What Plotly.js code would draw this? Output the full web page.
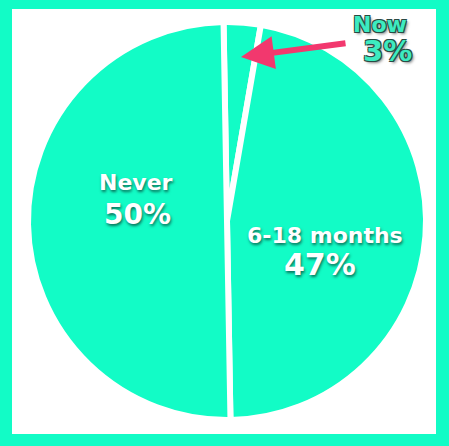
<!DOCTYPE html>
<html>
<head>
<meta charset="utf-8">
<script src="https://cdn.plot.ly/plotly-3.0.1.min.js"></script>
<style>
  html, body { margin: 0; padding: 0; }
  body { width: 449px; height: 446px; background: #12FCC6; position: relative; overflow: hidden; }
  #chart { position: absolute; left: 12px; top: 9px; width: 424px; height: 425px; background: #ffffff; }
</style>
</head>
<body>
<div id="chart"></div>
<script>
// Data
var labels = ['Now', '6-18 months', 'Never'];
var values = [3, 47, 50];
var sliceColors = ['#12FCC6', '#12FCC6', '#12FCC6'];

// Layout helpers (page pixel -> paper coords). Plot area: page x 28..426, y 22..420
var DIVL = 12, DIVT = 9, PL = 28, PT = 22, PS = 398;
function px(x) { return (x - PL) / PS; }
function py(y) { return (PT + PS - y) / PS; }

var whiteShadow = '1px 2px 3px rgba(0,0,0,0.55)';
var tealShadow = '1px 1px 0px #2a4a44, -1px -1px 0px #2a4a44, 1px -1px 0px #2a4a44, -1px 1px 0px #2a4a44, 2px 2px 3px rgba(0,0,0,0.5)';

var labelPos = {
  'Never':       {lx: 136, ly: 182, vx: 137, vy: 214, ls: 22, vs: 28, color: '#ffffff', shadow: whiteShadow},
  '6-18 months': {lx: 325, ly: 235, vx: 320, vy: 264, ls: 22, vs: 30, color: '#ffffff', shadow: whiteShadow},
  'Now':         {lx: 380, ly: 24,  vx: 387, vy: 51,  ls: 22, vs: 29, color: '#3DEBC0', shadow: tealShadow}
};

var annotations = [];
labels.forEach(function (lab, i) {
  var p = labelPos[lab];
  annotations.push({
    xref: 'paper', yref: 'paper', x: px(p.lx), y: py(p.ly),
    xanchor: 'center', yanchor: 'middle', showarrow: false,
    text: '<b>' + lab + '</b>',
    font: {family: 'DejaVu Sans', size: p.ls, color: p.color, weight: 'bold', shadow: p.shadow}
  });
  annotations.push({
    xref: 'paper', yref: 'paper', x: px(p.vx), y: py(p.vy),
    xanchor: 'center', yanchor: 'middle', showarrow: false,
    text: '<b>' + values[i] + '%</b>',
    font: {family: 'DejaVu Sans', size: p.vs, color: p.color, weight: 'bold', shadow: p.shadow}
  });
});

// Pointer arrow to the "Now" slice
annotations.push({
  xref: 'paper', yref: 'paper', x: px(241), y: py(57),
  ax: 106, ay: -14, text: '', showarrow: true,
  arrowhead: 2, arrowsize: 1.1, arrowwidth: 6, arrowcolor: '#F2386E', standoff: 0
});

var data = [{
  type: 'pie',
  labels: labels,
  values: values,
  sort: false,
  direction: 'clockwise',
  rotation: -1,
  marker: {colors: sliceColors, line: {color: '#ffffff', width: 6}},
  textinfo: 'none',
  hoverinfo: 'none',
  showlegend: false
}];

var layout = {
  width: 424, height: 425,
  margin: {l: PL - DIVL, t: PT - DIVT, r: 424 - (PL - DIVL) - PS, b: 425 - (PT - DIVT) - PS, pad: 0},
  paper_bgcolor: '#ffffff',
  showlegend: false,
  annotations: annotations
};

Plotly.newPlot('chart', data, layout, {displayModeBar: false, staticPlot: true});
</script>
</body>
</html>
